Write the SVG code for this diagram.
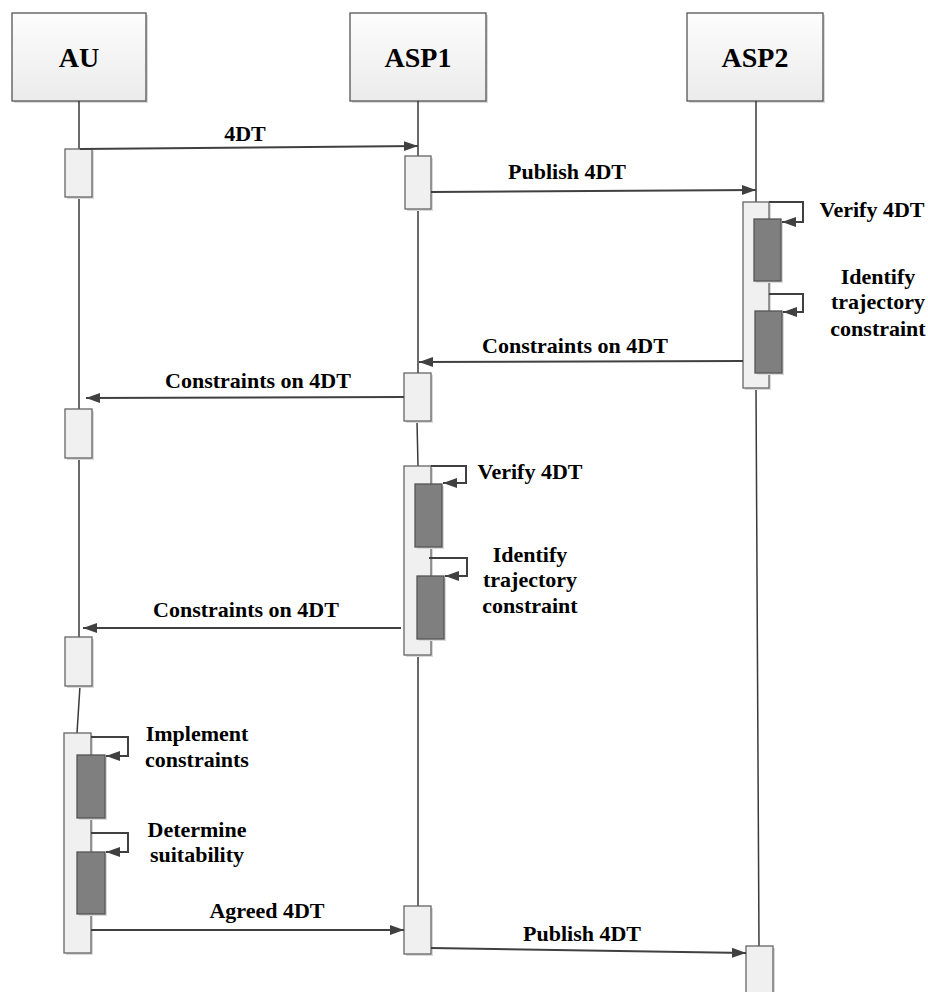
<svg xmlns="http://www.w3.org/2000/svg" width="928" height="992" viewBox="0 0 928 992">
<style>
.hdr{stroke:#555;stroke-width:1.3;fill:url(#hg)}
.sh{fill:#d9d9d9}
.act{fill:#f0f0f0;stroke:#666;stroke-width:1.3}
.dark{fill:#7f7f7f;stroke:#555;stroke-width:1.3}
.life{stroke:#3a3a3a;stroke-width:1.5;fill:none}
.msg{stroke:#404040;stroke-width:2;fill:none;marker-end:url(#ah)}
.t{font-family:"Liberation Serif","Times New Roman",serif;font-weight:bold;font-size:22px;fill:#000;text-anchor:middle}
.h{font-size:28px}
</style>
<defs>
<linearGradient id="hg" x1="0" y1="0" x2="0" y2="1">
<stop offset="0" stop-color="#fdfdfd"/>
<stop offset="1" stop-color="#ebebeb"/>
</linearGradient>
<marker id="ah" markerUnits="userSpaceOnUse" markerWidth="15" markerHeight="12" refX="14" refY="6" orient="auto">
<path d="M0,1 L14,6 L0,11 z" fill="#404040"/>
</marker>
</defs>
<rect width="928" height="992" fill="#fff"/>

<g id="AU">
<rect class="sh" x="14" y="15" width="134" height="88"/>
<rect class="hdr" x="12" y="13" width="134" height="88"/>
<text class="t h" x="79" y="67">AU</text>
<path class="life" d="M79,101 V149 M79,197 V409 M79,458 V637 M80,686 L77,733"/>
<rect class="sh" x="67" y="151" width="27" height="48"/>
<rect class="act" x="65" y="149" width="27" height="48"/>
<rect class="sh" x="67" y="411" width="27" height="49"/>
<rect class="act" x="65" y="409" width="27" height="49"/>
<rect class="sh" x="67" y="639" width="27" height="49"/>
<rect class="act" x="65" y="637" width="27" height="49"/>
<rect class="sh" x="66" y="735" width="27" height="220"/>
<rect class="act" x="64" y="733" width="27" height="220"/>
<rect class="sh" x="79" y="757" width="28" height="63"/>
<rect class="dark" x="77" y="755" width="28" height="63"/>
<rect class="sh" x="79" y="854" width="28" height="62"/>
<rect class="dark" x="77" y="852" width="28" height="62"/>
</g>

<g id="ASP1">
<rect class="sh" x="352" y="15" width="136" height="88"/>
<rect class="hdr" x="350" y="13" width="136" height="88"/>
<text class="t h" x="418" y="67">ASP1</text>
<path class="life" d="M418,101 V156 M418,209 V373 M417,421 L418,466 M418,655 V906"/>
<rect class="sh" x="407" y="158" width="26" height="53"/>
<rect class="act" x="405" y="156" width="26" height="53"/>
<rect class="sh" x="406" y="375" width="27" height="48"/>
<rect class="act" x="404" y="373" width="27" height="48"/>
<rect class="sh" x="406" y="468" width="27" height="189"/>
<rect class="act" x="404" y="466" width="27" height="189"/>
<rect class="sh" x="417" y="486" width="27" height="63"/>
<rect class="dark" x="415" y="484" width="27" height="63"/>
<rect class="sh" x="419" y="578" width="27" height="63"/>
<rect class="dark" x="417" y="576" width="27" height="63"/>
<rect class="sh" x="406" y="908" width="27" height="48"/>
<rect class="act" x="404" y="906" width="27" height="48"/>
</g>

<g id="ASP2">
<rect class="sh" x="689" y="15" width="136" height="88"/>
<rect class="hdr" x="687" y="13" width="136" height="88"/>
<text class="t h" x="755" y="67">ASP2</text>
<path class="life" d="M756,101 V202 M756,388 L759,946"/>
<rect class="sh" x="745" y="204" width="26" height="186"/>
<rect class="act" x="743" y="202" width="26" height="186"/>
<rect class="sh" x="756" y="221" width="27" height="62"/>
<rect class="dark" x="754" y="219" width="27" height="62"/>
<rect class="sh" x="757" y="313" width="27" height="62"/>
<rect class="dark" x="755" y="311" width="27" height="62"/>
<rect class="sh" x="748" y="948" width="27" height="50"/>
<rect class="act" x="746" y="946" width="27" height="50"/>
</g>

<g id="connectors">
<path class="msg" d="M80,149 L418,146"/>
<path class="msg" d="M431,192 L756,190"/>
<path class="msg" d="M769,202 H803 V222 H782"/>
<path class="msg" d="M769,294 H803 V312 H783"/>
<path class="msg" d="M743,361 L419,362"/>
<path class="msg" d="M404,397 L86,398"/>
<path class="msg" d="M431,466 H466 V483 H443"/>
<path class="msg" d="M429,558 H467 V576 H445"/>
<path class="msg" d="M401,628 L83,628"/>
<path class="msg" d="M91,737 H128 V756 H106"/>
<path class="msg" d="M91,833 H128 V852 H106"/>
<path class="msg" d="M91,930 L404,930"/>
<path class="msg" d="M431,948 L746,953"/>
</g>

<g id="labels">
<text class="t" x="245" y="141">4DT</text>
<text class="t" x="567" y="179">Publish 4DT</text>
<text class="t" x="872" y="217">Verify 4DT</text>
<text class="t" x="878" y="284">Identify</text>
<text class="t" x="878" y="309">trajectory</text>
<text class="t" x="878" y="336">constraint</text>
<text class="t" x="575" y="353">Constraints on 4DT</text>
<text class="t" x="258" y="388">Constraints on 4DT</text>
<text class="t" x="530" y="479">Verify 4DT</text>
<text class="t" x="530" y="562">Identify</text>
<text class="t" x="530" y="587">trajectory</text>
<text class="t" x="530" y="613">constraint</text>
<text class="t" x="246" y="617">Constraints on 4DT</text>
<text class="t" x="197" y="741">Implement</text>
<text class="t" x="197" y="767">constraints</text>
<text class="t" x="197" y="837">Determine</text>
<text class="t" x="197" y="862">suitability</text>
<text class="t" x="267" y="918">Agreed 4DT</text>
<text class="t" x="582" y="941">Publish 4DT</text>
</g>
</svg>
